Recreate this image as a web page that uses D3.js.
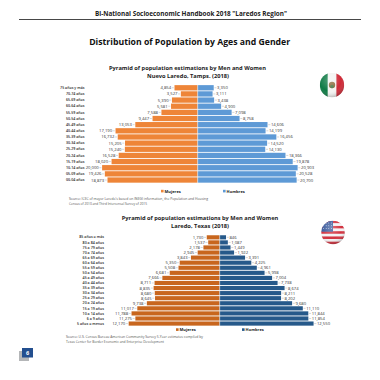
<!DOCTYPE html>
<html>
<head>
<meta charset="utf-8">
<style>
  html, body { margin: 0; padding: 0; background: #fff; }
  svg { display: block; }
  text { font-family: "Open Sans", "Noto Sans", sans-serif; }
</style>
<script src="https://cdn.jsdelivr.net/npm/d3@7"></script>
</head>
<body>
<div id="chart"></div>
<script>
// Nuevo Laredo, Tamps.
var mxAges = ['75 años y más', '70-74 años', '65-69 años', '60-64 años', '55-59 años', '50-54 años', '45-49 años', '40-44 años',
  '35-39 años', '30-34 años', '25-29 años', '20-24 años', '15-19 años', '10-14 años', '05-09 años', '00-04 años'];
var mxWomen = [4854, 3527, 5390, 5581, 7588, 9447, 13053, 17190, 16732, 15205, 15240, 16528, 18020, 20000, 19426, 18873];
var mxMen = [3350, 3111, 3438, 4900, 7098, 8758, 14606, 14199, 16456, 14520, 14130, 18366, 19878, 20903, 20528, 20700];

// Laredo, Texas
var usAges = ['85 años o más', '80 a 84 años', '75 a 79 años', '70 a 74 años', '65 a 69 años', '60 a 64 años', '55 a 59 años', '50 a 54 años', '45 a 49 años',
  '40 a 44 años', '35 a 39 años', '30 a 34 años', '25 a 29 años', '20 a 24 años', '15 a 19 años', '10 a 14 años', '6 a 9 años', '5 años o menos'];
var usWomen = [1730, 1537, 2178, 2945, 3843, 5350, 5508, 6681, 7666, 8711, 8835, 8680, 8645, 9738, 11017, 11788, 11275, 12170];
var usMen = [846, 1087, 1449, 1922, 3391, 4225, 4961, 5998, 7004, 7738, 8674, 8211, 8202, 9680, 11110, 11844, 11854, 12550];

var svg = d3.select('#chart').append('svg').attr('width', 380).attr('height', 380);
var defs = svg.append('defs');

var fmt = d3.format(',');

// opts.width squeezes the line to the measured width of the original
function putText(x, y, str, size, opts) {
  opts = opts || {};
  var t = svg.append('text').attr('x', x).attr('y', y)
    .attr('text-anchor', opts.anchor || 'middle')
    .attr('fill', opts.fill || '#222')
    .style('font-size', size + 'px')
    .style('font-weight', opts.weight || 400)
    .text(str);
  if (opts.width) t.attr('textLength', opts.width).attr('lengthAdjust', 'spacingAndGlyphs');
  return t;
}

function pyramid(cfg) {
  var g = svg.append('g');
  var y = d3.scaleBand().domain(cfg.ages).range([cfg.top, cfg.bottom]).paddingInner(cfg.gap).paddingOuter(cfg.gap / 2);
  var xL = d3.scaleLinear().domain([0, 1000]).range([cfg.center, cfg.center - cfg.perK]);
  var xR = d3.scaleLinear().domain([0, 1000]).range([cfg.center, cfg.center + cfg.perK]);

  g.selectAll('.bar-w').data(cfg.women).enter().append('rect')
    .attr('x', function (d) { return xL(d); })
    .attr('y', function (d, i) { return y(cfg.ages[i]); })
    .attr('width', function (d) { return cfg.center - xL(d); })
    .attr('height', y.bandwidth())
    .attr('fill', cfg.womenColor);

  g.selectAll('.bar-m').data(cfg.men).enter().append('rect')
    .attr('x', cfg.center)
    .attr('y', function (d, i) { return y(cfg.ages[i]); })
    .attr('width', function (d) { return xR(d) - cfg.center; })
    .attr('height', y.bandwidth())
    .attr('fill', cfg.menColor);

  // white seam between the two sides
  g.append('line').attr('x1', cfg.center).attr('x2', cfg.center)
    .attr('y1', cfg.top).attr('y2', cfg.bottom)
    .attr('stroke', '#fff').attr('stroke-opacity', 0.6).attr('stroke-width', 0.8);

  // leader lines + value labels
  function labels(values, scale, dir) {
    var mid = function (i) { return y(cfg.ages[i]) + y.bandwidth() / 2; };
    g.selectAll(null).data(values).enter().append('line')
      .attr('x1', function (d) { return scale(d) + dir * 0.7; })
      .attr('x2', function (d) { return scale(d) + dir * 2.8; })
      .attr('y1', function (d, i) { return mid(i); })
      .attr('y2', function (d, i) { return mid(i); })
      .attr('stroke', '#999').attr('stroke-width', 0.4);
    g.selectAll(null).data(values).enter().append('text')
      .attr('x', function (d) { return scale(d) + dir * 3.4; })
      .attr('y', function (d, i) { return mid(i) + 1.5; })
      .attr('text-anchor', dir < 0 ? 'end' : 'start')
      .attr('fill', '#333')
      .style('font-size', cfg.valueSize + 'px')
      .text(function (d) { return fmt(d); });
  }
  labels(cfg.women, xL, -1);
  labels(cfg.men, xR, 1);

  // age labels through a band axis
  var axis = d3.axisLeft(y).tickSize(0).tickPadding(0);
  var ax = g.append('g').attr('transform', 'translate(' + cfg.labelX + ',0)').call(axis);
  ax.select('.domain').remove();
  ax.selectAll('text').attr('fill', '#222').style('font-size', cfg.ageSize + 'px')
    .style('font-weight', 600).style('font-family', '"Open Sans", sans-serif');

  // legend
  g.append('rect').attr('x', cfg.legendW).attr('y', cfg.legendY - 1.2).attr('width', 2.6).attr('height', 2.6).attr('fill', cfg.womenColor);
  g.append('text').attr('x', cfg.legendW + 3.6).attr('y', cfg.legendY + 1.5).attr('fill', '#222')
    .style('font-size', '4px').style('font-weight', 700).text('Mujeres');
  g.append('rect').attr('x', cfg.legendM).attr('y', cfg.legendY - 1.2).attr('width', 2.6).attr('height', 2.6).attr('fill', cfg.menColor);
  g.append('text').attr('x', cfg.legendM + 3.6).attr('y', cfg.legendY + 1.5).attr('fill', '#222')
    .style('font-size', '4px').style('font-weight', 700).text('Hombres');
}

// header
putText(191, 16.3, 'Bi-National Socioeconomic Handbook  2018  "Laredos Region"', 6.2, { weight: 700, width: 192 });
svg.append('line').attr('x1', 19).attr('x2', 361).attr('y1', 19.5).attr('y2', 19.5).attr('stroke', '#333').attr('stroke-width', 0.9);
putText(189.7, 44.5, 'Distribution of Population by Ages and Gender', 9.4, { weight: 700, fill: '#111', width: 201 });

putText(187.5, 69.5, 'Pyramid of population estimations by Men and Women', 5.6, { weight: 700, width: 157 });
putText(188, 78, 'Nuevo Laredo, Tamps. (2018)', 5.6, { weight: 700, width: 82 });

pyramid({
  ages: mxAges, women: mxWomen, men: mxMen,
  center: 197.7, perK: 4.78, top: 84.7, bottom: 183.1, gap: 0.14,
  womenColor: '#EE8538', menColor: '#5E9AD6',
  labelX: 84.5, ageSize: 3.6, valueSize: 4.2,
  legendW: 161, legendM: 223, legendY: 191
});

putText(69, 199.5, "Source: ICEC of mayor Laredo's based on INEGI information, the Population and Housing", 3.7, { anchor: 'start', fill: '#555', width: 139 });
putText(69, 204.5, 'Census of 2010 and Third Intercensal Survey of 2015', 3.7, { anchor: 'start', fill: '#555', width: 78 });

putText(200, 219.5, 'Pyramid of population estimations by Men and Women', 5.6, { weight: 700, width: 156.5 });
putText(200, 227.5, 'Laredo, Texas (2018)', 5.6, { weight: 700, width: 58 });

pyramid({
  ages: usAges, women: usWomen, men: usMen,
  center: 219.7, perK: 7.48, top: 234.8, bottom: 326.1, gap: 0.18,
  womenColor: '#C8661E', menColor: '#26598A',
  labelX: 104, ageSize: 3.6, valueSize: 4.2,
  legendW: 176, legendM: 242, legendY: 329.5
});

putText(66, 338.3, 'Source: U.S. Census Bureau American Community Survey 5-Year estimates compiled by', 3.7, { anchor: 'start', fill: '#555', width: 137 });
putText(66, 343.3, 'Texas Center for Border Economic and Enterprise Development', 3.7, { anchor: 'start', fill: '#555', width: 98 });

// page number tab
svg.append('rect').attr('x', 19).attr('y', 351).attr('width', 10).attr('height', 10).attr('fill', '#b4b6b8');
svg.append('rect').attr('x', 22).attr('y', 348).attr('width', 11).attr('height', 9.5).attr('fill', '#234f8f');
putText(27.5, 354.8, '6', 5.5, { fill: '#fff', weight: 700 });

// round flags
var shine = defs.append('radialGradient').attr('id', 'shine').attr('cx', '42%').attr('cy', '30%').attr('r', '75%');
shine.append('stop').attr('offset', '0%').attr('stop-color', '#fff').attr('stop-opacity', 0.3);
shine.append('stop').attr('offset', '60%').attr('stop-color', '#fff').attr('stop-opacity', 0);
shine.append('stop').attr('offset', '100%').attr('stop-color', '#000').attr('stop-opacity', 0.3);

function flag(id, cx, cy, r, paint) {
  defs.append('clipPath').attr('id', id).append('circle').attr('cx', cx).attr('cy', cy).attr('r', r);
  var g = svg.append('g').attr('clip-path', 'url(#' + id + ')');
  paint(g, cx - r, cy - r, r * 2);
  svg.append('circle').attr('cx', cx).attr('cy', cy).attr('r', r).attr('fill', 'url(#shine)');
}

flag('mx', 332, 85, 12.2, function (g, x, y, s) {
  g.append('rect').attr('x', x).attr('y', y).attr('width', s).attr('height', s).attr('fill', '#f4f4f2');
  g.append('rect').attr('x', x).attr('y', y).attr('width', s / 3.1).attr('height', s).attr('fill', '#0f7a45');
  g.append('rect').attr('x', x + s * 0.68).attr('y', y).attr('width', s * 0.32).attr('height', s).attr('fill', '#cf2a37');
  g.append('circle').attr('cx', x + s / 2).attr('cy', y + s / 2).attr('r', s * 0.13).attr('fill', '#8a6a3a');
  g.append('circle').attr('cx', x + s / 2).attr('cy', y + s * 0.56).attr('r', s * 0.07).attr('fill', '#4d7a4a');
});

flag('us', 333, 232.5, 11.8, function (g, x, y, s) {
  var h = s / 9;
  d3.range(9).forEach(function (i) {
    g.append('rect').attr('x', x).attr('y', y + i * h).attr('width', s).attr('height', h + 0.1)
      .attr('fill', i % 2 ? '#f3f3f5' : '#d2323f');
  });
  g.append('rect').attr('x', x).attr('y', y).attr('width', s * 0.5).attr('height', h * 4.2).attr('fill', '#3a5a9c');
  // a few stars
  d3.range(3).forEach(function (row) {
    d3.range(4).forEach(function (col) {
      g.append('circle').attr('cx', x + s * 0.1 + col * s * 0.11).attr('cy', y + h * 0.9 + row * h * 1.05)
        .attr('r', 0.45).attr('fill', '#fff');
    });
  });
});
</script>
</body>
</html>
